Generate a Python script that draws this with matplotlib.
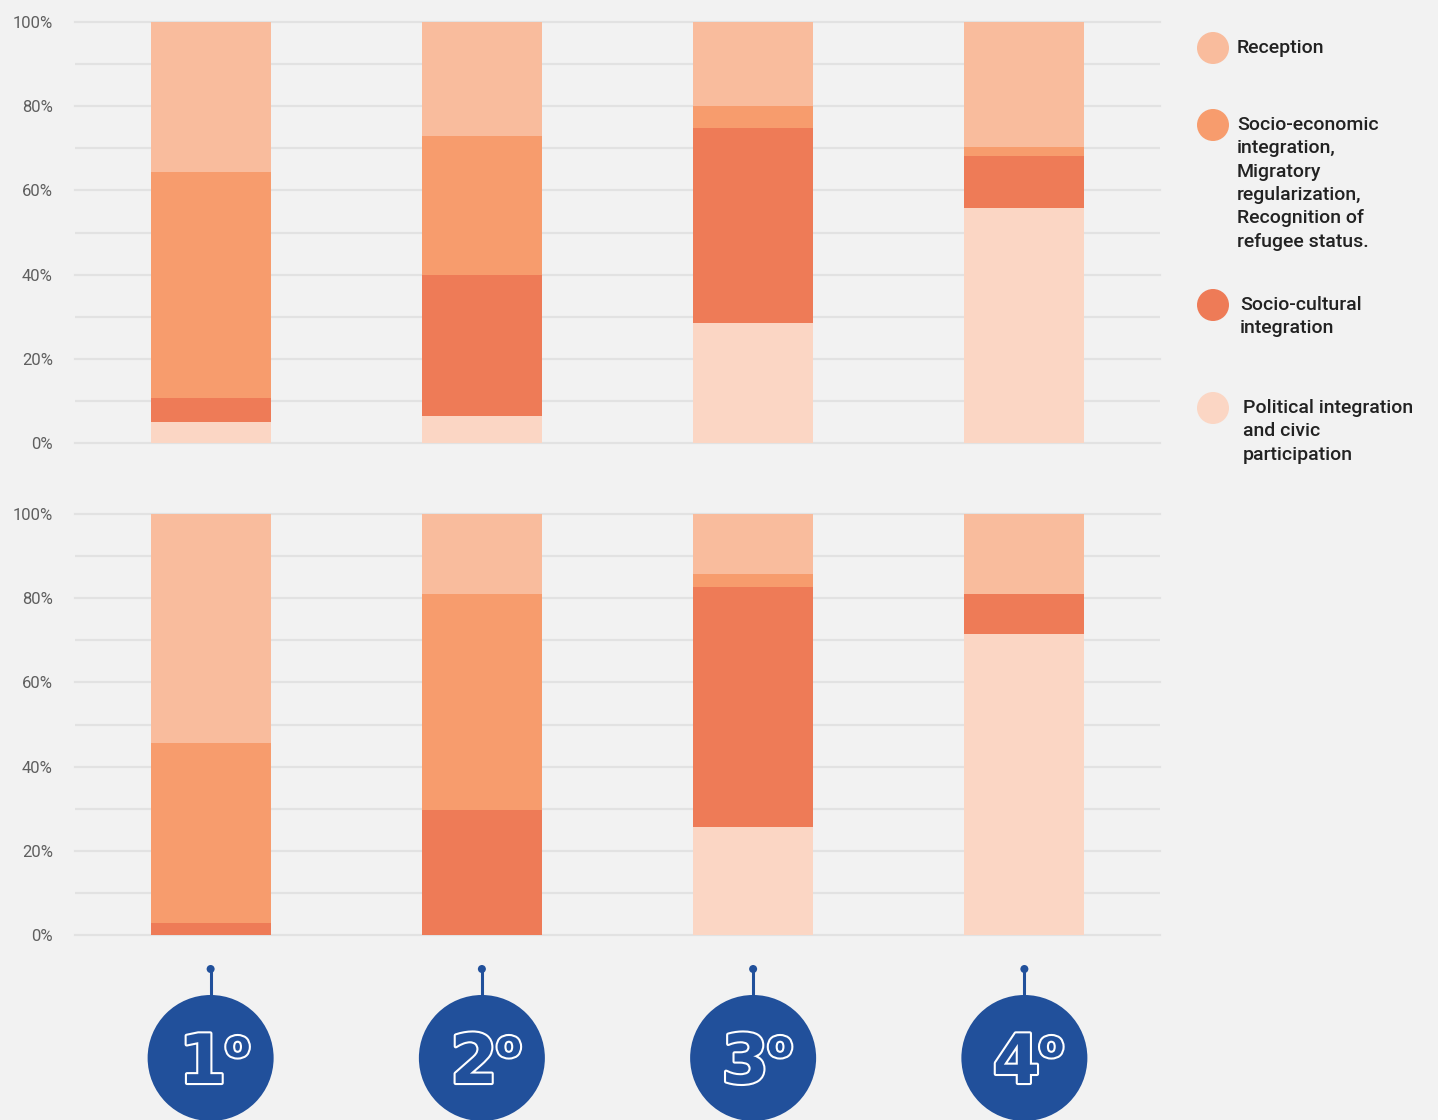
import matplotlib
matplotlib.use('Agg')
import matplotlib.pyplot as plt
import matplotlib.patheffects as pe
from matplotlib.patches import Circle
import numpy as np

# ---- data (percent, stacked from bottom) ----
categories = ['1', '2', '3', '4']
series_names = ['Political integration\nand civic\nparticipation',
                'Socio-cultural\nintegration',
                'Socio-economic\nintegration,\nMigratory\nregularization,\nRecognition of\nrefugee status.',
                'Reception']
top_political = [5.0, 6.5, 28.4, 55.9]
top_sociocultural = [5.7, 33.5, 46.5, 12.3]
top_socioeconomic = [53.7, 33.0, 5.2, 2.0]
top_reception = [35.6, 27.0, 19.9, 29.8]

bottom_political = [0.0, 0.0, 25.6, 71.5]
bottom_sociocultural = [2.8, 29.6, 57.0, 9.5]
bottom_socioeconomic = [42.8, 51.4, 3.1, 0.0]
bottom_reception = [54.4, 19.0, 14.3, 19.0]

colors = ['#fbd6c4', '#ee7b57', '#f79c6d', '#f9bc9d']
bg = '#f2f2f2'
blue = '#21509b'

W, H = 1438, 1120
fig = plt.figure(figsize=(W / 100, H / 100), dpi=100, facecolor=bg)


def panel(rect, stacks):
    ax = fig.add_axes(rect, facecolor=bg)
    x = np.arange(len(categories))
    cum = np.zeros(len(categories))
    for vals, c in zip(stacks, colors):
        ax.bar(x, vals, 0.442, bottom=cum, color=c, linewidth=0, zorder=3)
        cum += np.array(vals)
    ax.set_xlim(-0.5, 3.5)
    ax.set_ylim(0, 100)
    ax.set_yticks(range(0, 101, 20))
    ax.set_yticks(range(10, 100, 20), minor=True)
    ax.set_yticklabels([f'{v}%' for v in range(0, 101, 20)],
                       fontsize=12, color='#5f5f5f', family='Roboto')
    ax.set_xticks([])
    ax.tick_params(axis='y', which='both', length=0, pad=16)
    ax.grid(axis='y', which='both', color='#e2e2e2', lw=1.6)
    ax.set_axisbelow(True)
    for gl in ax.get_ygridlines():
        gl.set_clip_on(False)
    for s in ax.spines.values():
        s.set_visible(False)
    return ax


ax1 = panel([75 / W, (H - 443) / H, 1085 / W, 421 / H],
            [top_political, top_sociocultural, top_socioeconomic, top_reception])
ax2 = panel([75 / W, (H - 935) / H, 1085 / W, 421 / H],
            [bottom_political, bottom_sociocultural, bottom_socioeconomic, bottom_reception])

# overlay in pixel coords for legend and ordinal badges
ov = fig.add_axes([0, 0, 1, 1], facecolor='none')
ov.set_xlim(0, W)
ov.set_ylim(H, 0)
ov.axis('off')

# legend (top to bottom: reception first)
leg_y = [48, 125, 305, 408]
leg_tx = [1237, 1237, 1240, 1243]
for name, c, y, tx in zip(series_names[::-1], colors[::-1], leg_y, leg_tx):
    ov.add_patch(Circle((1213, y), 16, color=c, lw=0))
    ov.text(tx, y - 9, name, fontsize=14, family='Roboto', fontweight='medium',
            color='#222222', va='top', ha='left', linespacing=1.38)

# ordinal badges under the bars
fig.canvas.draw()
for i, lab in enumerate(categories):
    cx = ax2.transData.transform((i, 0))[0]
    ov.plot([cx, cx], [969, 1000], color=blue, lw=2.2, solid_capstyle='butt')
    ov.add_patch(Circle((cx, 969), 4, color=blue, lw=0))
    ov.add_patch(Circle((cx, 1058), 63, color=blue, lw=0))
    fx = [pe.Stroke(linewidth=3, foreground='white'), pe.Normal()]
    ov.text(cx - 8, 1083, lab, fontsize=49, fontweight='bold', family='DejaVu Sans',
            color=blue, ha='center', va='baseline', path_effects=fx)
    ov.text(cx + 27, 1057, 'o', fontsize=27, fontweight='bold', family='DejaVu Sans',
            color=blue, ha='center', va='baseline', path_effects=fx)

fig.savefig('out.png', dpi=100, facecolor=bg)
